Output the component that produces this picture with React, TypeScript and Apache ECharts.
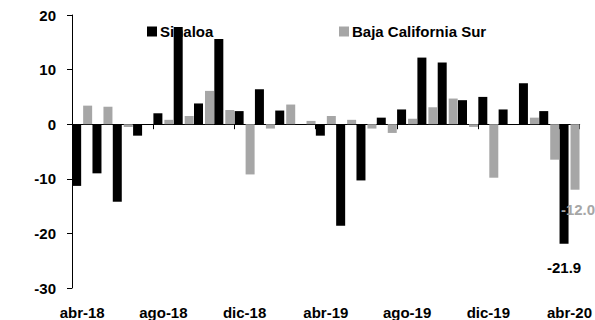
import React, { useEffect, useRef } from "react";
import * as echarts from "echarts";

const categories = [
  "abr-18", "may-18", "jun-18", "jul-18", "ago-18", "sep-18", "oct-18", "nov-18", "dic-18",
  "ene-19", "feb-19", "mar-19", "abr-19", "may-19", "jun-19", "jul-19", "ago-19", "sep-19",
  "oct-19", "nov-19", "dic-19", "ene-20", "feb-20", "mar-20", "abr-20",
];
const sinaloa = [
  -11.3, -9.0, -14.2, -2.1, 2.0, 17.8, 3.8, 15.6, 2.4, 6.4, 2.5, 0, -2.1, -18.6, -10.3, 1.2,
  2.7, 12.2, 11.3, 4.4, 5.0, 2.7, 7.5, 2.4, -21.9,
];
const bcs = [
  3.4, 3.2, -0.5, 0, 0.8, 1.5, 6.1, 2.6, -9.2, -0.8, 3.6, 0.6, 1.5, 0.8, -0.8, -1.6, 1.0, 3.1,
  4.7, -0.5, -9.8, 0, 1.2, -6.5, -12.0,
];
const yTicks = { min: -30, max: 20, interval: 10 };

const FONT = "'Liberation Sans', Arial, sans-serif";
const FS = 15;
const BLACK = "#000000";
const GRAY = "#A6A6A6";

export default function App() {
  const ref = useRef<HTMLDivElement>(null);
  useEffect(() => {
    if (!ref.current) return;
    const chart = echarts.init(ref.current, undefined, { renderer: "svg" });
    const last = categories.length - 1;
    const blackData = sinaloa.map((v, i) =>
      i === last
        ? {
            value: v,
            label: {
              show: true,
              position: "bottom",
              distance: 16,
              formatter: (p: any) => Number(p.value).toFixed(1),
              color: BLACK,
              fontWeight: "bold",
              fontSize: FS,
              fontFamily: FONT,
            },
          }
        : v
    );
    const grayData = bcs.map((v, i) =>
      i === last
        ? {
            value: v,
            label: {
              show: true,
              position: "bottom",
              distance: 12,
              offset: [3, 0],
              formatter: (p: any) => Number(p.value).toFixed(1),
              color: GRAY,
              fontWeight: "bold",
              fontSize: FS,
              fontFamily: FONT,
            },
          }
        : v
    );
    chart.setOption({
      animation: false,
      textStyle: { fontFamily: FONT },
      grid: { left: 72, right: 13, top: 15, bottom: 31, containLabel: false },
      legend: [
        {
          data: ["Sinaloa"],
          left: 142,
          top: 19,
          itemWidth: 10,
          itemHeight: 10,
          itemGap: 4,
          icon: "rect",
          textStyle: { fontSize: FS, fontWeight: "bold", color: BLACK, fontFamily: FONT, padding: [0, 0, 0, -2] },
        },
        {
          data: ["Baja California Sur"],
          left: 334,
          top: 19,
          itemWidth: 10,
          itemHeight: 10,
          icon: "rect",
          textStyle: { fontSize: FS, fontWeight: "bold", color: BLACK, fontFamily: FONT, padding: [0, 0, 0, -2] },
        },
      ],
      xAxis: [
        {
          type: "category",
          data: categories,
          position: "bottom",
          axisLine: { show: false, onZero: false },
          axisTick: { show: false },
          axisLabel: {
            interval: 3,
            margin: 17,
            fontSize: FS,
            fontWeight: "bold",
            color: BLACK,
            fontFamily: FONT,
          },
        },
        {
          type: "category",
          data: categories,
          position: "bottom",
          axisLine: { show: true, onZero: true, lineStyle: { color: BLACK, width: 1 } },
          axisTick: { show: true, interval: 3, length: 5, lineStyle: { color: BLACK } },
          axisLabel: { show: false },
        },
      ],
      yAxis: {
        type: "value",
        min: yTicks.min,
        max: yTicks.max,
        interval: yTicks.interval,
        axisLine: { show: true, lineStyle: { color: BLACK, width: 1 } },
        axisTick: { show: true, length: 5, lineStyle: { color: BLACK } },
        splitLine: { show: false },
        axisLabel: {
          margin: 16,
          fontSize: FS,
          fontWeight: "bold",
          color: BLACK,
          fontFamily: FONT,
        },
      },
      series: [
        {
          name: "Sinaloa",
          type: "bar",
          data: blackData,
          barWidth: 9,
          barGap: "22%",
          itemStyle: { color: BLACK },
        },
        {
          name: "Baja California Sur",
          type: "bar",
          data: grayData,
          barWidth: 9,
          barGap: "22%",
          itemStyle: { color: GRAY },
        },
      ],
    });
    return () => chart.dispose();
  }, []);
  return <div ref={ref} style={{ width: 595, height: 320, position: "absolute", left: 0, top: 0 }} />;
}
